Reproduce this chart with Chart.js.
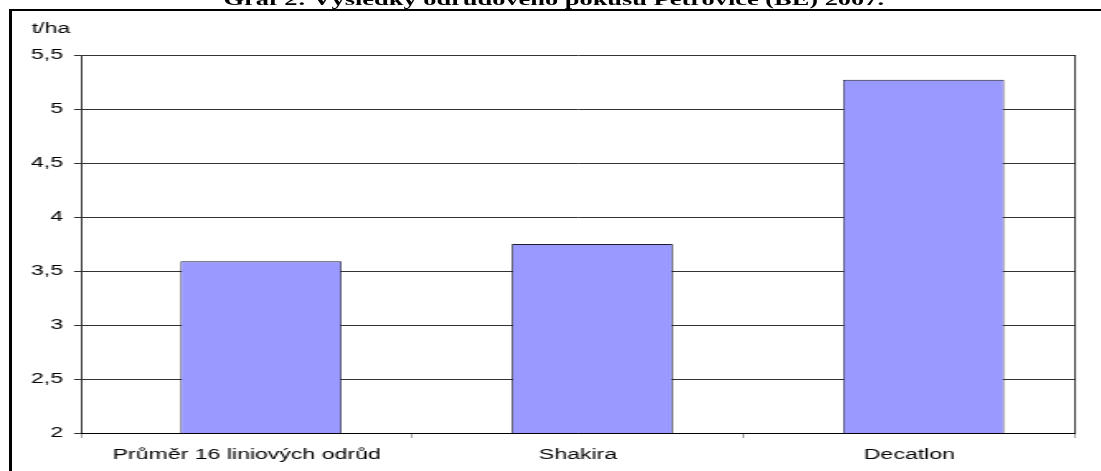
<!DOCTYPE html>
<html>
<head>
<meta charset="utf-8">
<script src="https://cdn.jsdelivr.net/npm/chart.js@4.4.0/dist/chart.umd.min.js"></script>
<style>
  html, body { margin: 0; padding: 0; background: #fff; overflow: hidden; }
  #frame { position: absolute; left: 9px; top: 9px; width: 1400px; height: 700px; border-left: 3px solid #000; border-top: 2px solid #000; }
  #stretch { position: absolute; left: 0; top: 0; width: 667.27px; height: 471px; transform: scaleX(1.65); transform-origin: 0 0; }
  #title { position: absolute; left: 0; top: -8px; width: 100%; box-sizing: border-box; padding-left: 4px; text-align: center; font: bold 16px/16px "Liberation Serif", "Times New Roman", serif; color: #000; white-space: nowrap; }
  #box { position: relative; width: 100%; height: 471px; }
</style>
</head>
<body>
<div id="frame"></div>
<div id="stretch">
  <div id="box"><canvas id="bar-chart"></canvas></div>
  <div id="title">Graf 2: Výsledky odrůdového pokusu Petrovice (BE) 2007.</div>
</div>
<script>
const categories = ["Průměr 16 liniových odrůd", "Shakira", "Decatlon"];
const yields = [3.59, 3.75, 5.27];
const yTicks = [2, 2.5, 3, 3.5, 4, 4.5, 5, 5.5];
const unitLabel = "t/ha";

const S = 1.65;          // horizontal stretch of the whole picture
const BAR_SHIFT = 0.043; // bars sit a little right of the category centre

// right edge of the plot box + unit label
const framePlugin = {
    id: 'frame',
    afterDraw(chart) {
        const ctx = chart.ctx;
        const a = chart.chartArea;
        ctx.save();
        ctx.strokeStyle = '#000';
        ctx.lineWidth = 0.8;
        ctx.beginPath();
        ctx.moveTo(a.right, a.top);
        ctx.lineTo(a.right, a.bottom);
        ctx.stroke();
        ctx.fillStyle = '#000';
        ctx.font = '14px "Liberation Sans", Arial, sans-serif';
        ctx.textBaseline = 'alphabetic';
        ctx.fillText(unitLabel, 31.7 / S, 33);
        ctx.restore();
    }
};

const ctx = document.getElementById('bar-chart');

new Chart(ctx, {
    type: 'bar',
    data: {
        labels: categories,
        datasets: [{
            data: yields.map((v, i) => ({ x: i, y: v })),
            xAxisID: 'xb',
            backgroundColor: '#9999ff',
            borderColor: '#1a1a33',
            borderWidth: { top: 1, bottom: 0, left: 0.8, right: 0.8 },
            borderSkipped: false,
            barPercentage: 0.486,
            categoryPercentage: 1
        }]
    },
    options: {
        responsive: true,
        maintainAspectRatio: false,
        animation: false,
        layout: { padding: { top: 55, right: 1101 / S - 1075 / S, left: 0, bottom: 0 } },
        plugins: {
            legend: { display: false },
            tooltip: { enabled: false },
            title: { display: false }
        },
        scales: {
            y: {
                min: 2,
                max: 5.5,
                afterFit(scale) { scale.width = 81 / S; },
                afterBuildTicks(scale) { scale.ticks = yTicks.map(v => ({ value: v })); },
                ticks: {
                    color: '#000',
                    padding: 11 / S,
                    font: { family: '"Liberation Sans", Arial, sans-serif', size: 14 },
                    callback: v => String(v).replace('.', ',')
                },
                grid: { color: '#333', lineWidth: 1, tickLength: 7 / S, drawTicks: true },
                border: { color: '#000', width: 0.8 }
            },
            x: {
                type: 'category',
                afterFit(scale) { scale.height = 38; },
                ticks: {
                    color: '#000',
                    padding: 9,
                    maxRotation: 0,
                    font: { family: '"Liberation Sans", Arial, sans-serif', size: 14 }
                },
                grid: { display: true, drawOnChartArea: false, drawTicks: true, offset: true, tickLength: 5, color: '#888', lineWidth: 0.8 },
                border: { color: '#000', width: 1 }
            },
            xb: {
                type: 'linear',
                display: false,
                offset: false,
                grid: { offset: false },
                min: -0.5 - BAR_SHIFT,
                max: categories.length - 0.5 - BAR_SHIFT,
                afterBuildTicks(scale) { scale.ticks = categories.map((c, i) => ({ value: i })); },
                afterFit(scale) { scale.height = 0; }
            }
        }
    },
    plugins: [framePlugin]
});
</script>
</body>
</html>
